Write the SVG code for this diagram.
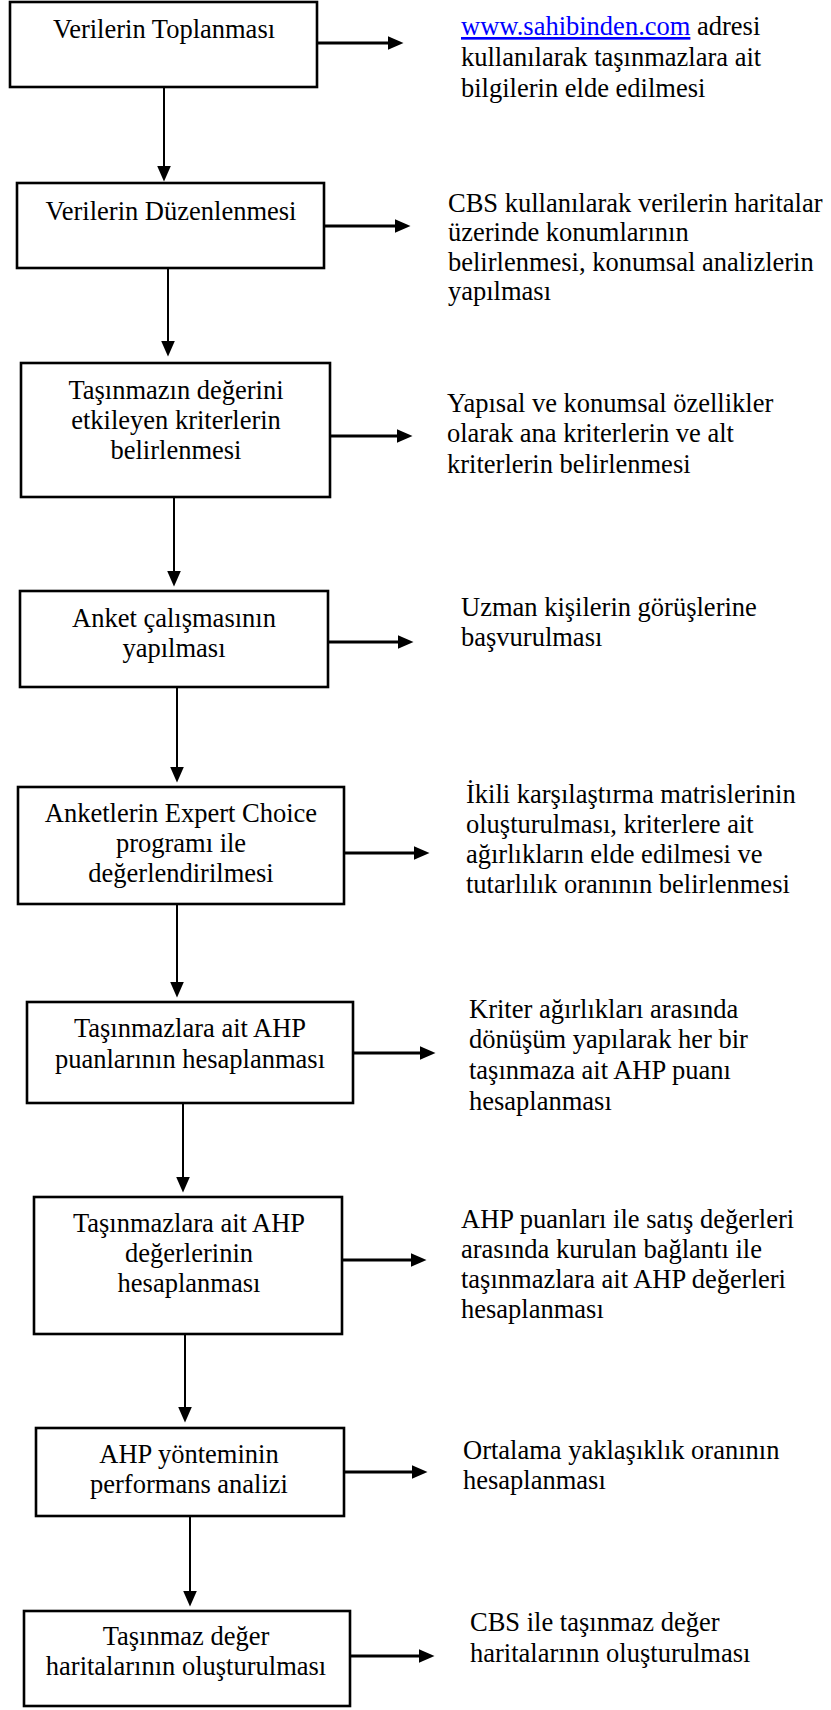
<svg xmlns="http://www.w3.org/2000/svg" width="831" height="1710" viewBox="0 0 831 1710">
<style>
.box{fill:#fff;stroke:#000;stroke-width:2.6}
.t{font-family:"Liberation Serif","Times New Roman",serif;font-size:26.5px;fill:#000}
.c{text-anchor:middle}
.v{stroke:#000;stroke-width:2;fill:none}
.h{stroke:#000;stroke-width:2.8;fill:none}
.link{fill:#0000ff;text-decoration:underline}
</style>
<defs>
<marker id="ah" markerUnits="userSpaceOnUse" markerWidth="16" markerHeight="14" viewBox="0 0 16 14" refX="0.5" refY="7" orient="auto">
<path d="M0,0 L16,7 L0,14 Z" fill="#000"/>
</marker>
</defs>
<rect width="831" height="1710" fill="#fff"/>

<g id="connectors">
<line class="v" x1="164" y1="88" x2="164" y2="166" marker-end="url(#ah)"/>
<line class="v" x1="168" y1="268" x2="168" y2="341" marker-end="url(#ah)"/>
<line class="v" x1="174" y1="497" x2="174" y2="571" marker-end="url(#ah)"/>
<line class="v" x1="177" y1="687" x2="177" y2="767" marker-end="url(#ah)"/>
<line class="v" x1="177" y1="904" x2="177" y2="982" marker-end="url(#ah)"/>
<line class="v" x1="183" y1="1103" x2="183" y2="1177" marker-end="url(#ah)"/>
<line class="v" x1="185" y1="1334" x2="185" y2="1407" marker-end="url(#ah)"/>
<line class="v" x1="190" y1="1516" x2="190" y2="1591" marker-end="url(#ah)"/>

<line class="h" x1="318" y1="43" x2="388" y2="43" marker-end="url(#ah)"/>
<line class="h" x1="325" y1="226" x2="395" y2="226" marker-end="url(#ah)"/>
<line class="h" x1="331" y1="436" x2="397" y2="436" marker-end="url(#ah)"/>
<line class="h" x1="329" y1="642" x2="398" y2="642" marker-end="url(#ah)"/>
<line class="h" x1="345" y1="853" x2="414" y2="853" marker-end="url(#ah)"/>
<line class="h" x1="354" y1="1053" x2="420" y2="1053" marker-end="url(#ah)"/>
<line class="h" x1="343" y1="1260" x2="411" y2="1260" marker-end="url(#ah)"/>
<line class="h" x1="345" y1="1472" x2="412" y2="1472" marker-end="url(#ah)"/>
<line class="h" x1="351" y1="1656" x2="419" y2="1656" marker-end="url(#ah)"/>
</g>

<g id="n1">
<rect class="box" x="10" y="2" width="307" height="85"/>
<text class="t c" x="164" y="38">Verilerin Toplanması</text>
</g>
<g id="d1">
<text class="t" x="461" y="35"><tspan class="link">www.sahibinden.com</tspan> adresi</text>
<text class="t" x="461" y="66">kullanılarak taşınmazlara ait</text>
<text class="t" x="461" y="97">bilgilerin elde edilmesi</text>
</g>

<g id="n2">
<rect class="box" x="17" y="183" width="307" height="85"/>
<text class="t c" x="171" y="220">Verilerin Düzenlenmesi</text>
</g>
<g id="d2">
<text class="t" x="448" y="212">CBS kullanılarak verilerin haritalar</text>
<text class="t" x="448" y="241">üzerinde konumlarının</text>
<text class="t" x="448" y="271">belirlenmesi, konumsal analizlerin</text>
<text class="t" x="448" y="300">yapılması</text>
</g>

<g id="n3">
<rect class="box" x="21" y="363" width="309" height="134"/>
<text class="t c" x="176" y="399">Taşınmazın değerini</text>
<text class="t c" x="176" y="429">etkileyen kriterlerin</text>
<text class="t c" x="176" y="459">belirlenmesi</text>
</g>
<g id="d3">
<text class="t" x="447" y="412">Yapısal ve konumsal özellikler</text>
<text class="t" x="447" y="442">olarak ana kriterlerin ve alt</text>
<text class="t" x="447" y="473">kriterlerin belirlenmesi</text>
</g>

<g id="n4">
<rect class="box" x="20" y="591" width="308" height="96"/>
<text class="t c" x="174" y="627">Anket çalışmasının</text>
<text class="t c" x="174" y="657">yapılması</text>
</g>
<g id="d4">
<text class="t" x="461" y="616">Uzman kişilerin görüşlerine</text>
<text class="t" x="461" y="646">başvurulması</text>
</g>

<g id="n5">
<rect class="box" x="18" y="787" width="326" height="117"/>
<text class="t c" x="181" y="822">Anketlerin Expert Choice</text>
<text class="t c" x="181" y="852">programı ile</text>
<text class="t c" x="181" y="882">değerlendirilmesi</text>
</g>
<g id="d5">
<text class="t" x="466" y="803">İkili karşılaştırma matrislerinin</text>
<text class="t" x="466" y="833">oluşturulması, kriterlere ait</text>
<text class="t" x="466" y="863">ağırlıkların elde edilmesi ve</text>
<text class="t" x="466" y="893">tutarlılık oranının belirlenmesi</text>
</g>

<g id="n6">
<rect class="box" x="27" y="1002" width="326" height="101"/>
<text class="t c" x="190" y="1037">Taşınmazlara ait AHP</text>
<text class="t c" x="190" y="1068">puanlarının hesaplanması</text>
</g>
<g id="d6">
<text class="t" x="469" y="1018">Kriter ağırlıkları arasında</text>
<text class="t" x="469" y="1048">dönüşüm yapılarak her bir</text>
<text class="t" x="469" y="1079">taşınmaza ait AHP puanı</text>
<text class="t" x="469" y="1110">hesaplanması</text>
</g>

<g id="n7">
<rect class="box" x="34" y="1197" width="308" height="137"/>
<text class="t c" x="189" y="1232">Taşınmazlara ait AHP</text>
<text class="t c" x="189" y="1262">değerlerinin</text>
<text class="t c" x="189" y="1292">hesaplanması</text>
</g>
<g id="d7">
<text class="t" x="461" y="1228">AHP puanları ile satış değerleri</text>
<text class="t" x="461" y="1258">arasında kurulan bağlantı ile</text>
<text class="t" x="461" y="1288">taşınmazlara ait AHP değerleri</text>
<text class="t" x="461" y="1318">hesaplanması</text>
</g>

<g id="n8">
<rect class="box" x="36" y="1428" width="308" height="88"/>
<text class="t c" x="189" y="1463">AHP yönteminin</text>
<text class="t c" x="189" y="1493">performans analizi</text>
</g>
<g id="d8">
<text class="t" x="463" y="1459">Ortalama yaklaşıklık oranının</text>
<text class="t" x="463" y="1489">hesaplanması</text>
</g>

<g id="n9">
<rect class="box" x="24" y="1611" width="326" height="95"/>
<text class="t c" x="186" y="1645">Taşınmaz değer</text>
<text class="t c" x="186" y="1675">haritalarının oluşturulması</text>
</g>
<g id="d9">
<text class="t" x="470" y="1631">CBS ile taşınmaz değer</text>
<text class="t" x="470" y="1662">haritalarının oluşturulması</text>
</g>
</svg>
